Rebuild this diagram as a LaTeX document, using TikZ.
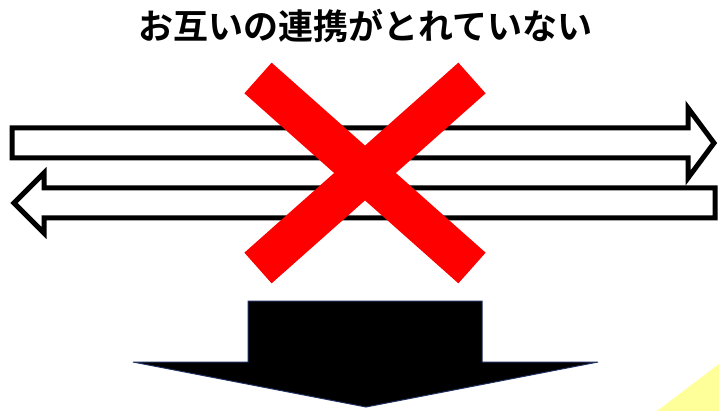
\documentclass[tikz,border=0pt]{standalone}
\usepackage{fontspec}
\newfontfamily\cjk{Noto Sans CJK JP}[BoldFont={Noto Sans CJK JP Bold}]
\begin{document}
\begin{tikzpicture}[x=1pt,y=-1pt,
  openarrow/.style={draw=black,line width=5pt,fill=white,line join=miter},
  cross/.style={draw=red,line width=41pt,line cap=butt},
  downarrow/.style={fill=black,draw={rgb,255:red,31;green,47;blue,95},line width=1pt},
  title/.style={font=\cjk\bfseries\fontsize{35}{40}\selectfont,inner sep=0pt}]
\useasboundingbox[fill=white] (0,0) rectangle (719,411);
% yellow corner
\fill[fill={rgb,255:red,255;green,255;blue,153}] (719,364) -- (657,411) -- (719,411) -- cycle;
% title
\node[title] (t) at (365,26) {お互いの連携がとれていない};
% right-pointing open arrow
\draw[openarrow] (12,128) -- (688,128) -- (688,108) -- (714,143) -- (688,178) -- (688,158) -- (12,158) -- cycle;
% left-pointing open arrow
\draw[openarrow] (715,188) -- (44,188) -- (44,173) -- (14,203) -- (44,233) -- (44,218) -- (715,218) -- cycle;
% red cross
\coordinate (a1) at (258,78);
\coordinate (a2) at (472,268);
\coordinate (b1) at (472,78);
\coordinate (b2) at (258,268);
\draw[cross] (a1) -- (a2);
\draw[cross] (b1) -- (b2);
% black down arrow
\draw[downarrow] (248,301) -- (482,301) -- (482,362) -- (598,362) -- (366,407) -- (133,362) -- (248,362) -- cycle;
\end{tikzpicture}
\end{document}
